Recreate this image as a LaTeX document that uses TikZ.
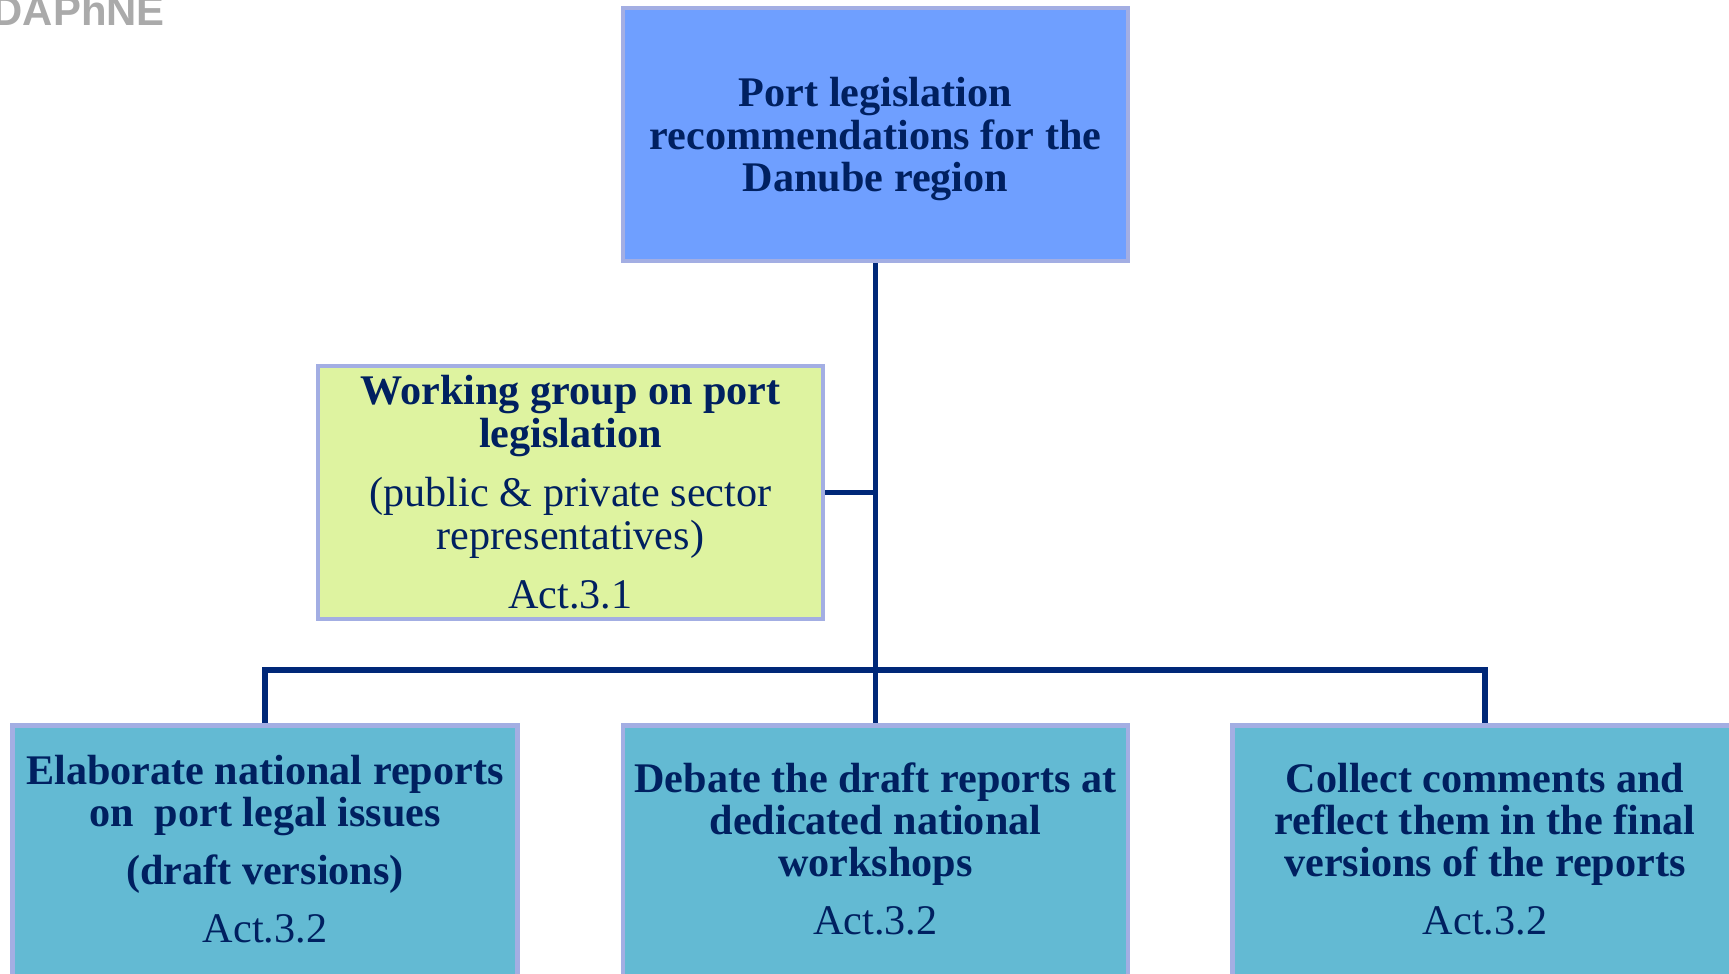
\documentclass[tikz,border=0pt]{standalone}
\usepackage{fontspec}
\setmainfont{Liberation Serif}
\newfontfamily\logofont{Liberation Sans}
\definecolor{topblue}{RGB}{111,159,255}
\definecolor{wgreen}{RGB}{222,243,160}
\definecolor{teal}{RGB}{99,186,211}
\definecolor{boxedge}{RGB}{163,174,227}
\definecolor{navy}{RGB}{0,32,96}
\definecolor{linkblue}{RGB}{0,40,120}
\definecolor{logogray}{RGB}{170,170,170}
\begin{document}
\begin{tikzpicture}[x=0.01cm,y=-0.01cm]
\tikzstyle{every node}+=[inner sep=0pt]
\tikzstyle{box}=[draw=boxedge, line width=1.3pt, minimum width=5.05cm, align=center, text=navy, font=\fontsize{12}{12}\selectfont]
\tikzstyle{topbox}=[box, fill=topblue, minimum height=2.53cm, text depth=-0.06cm]
\tikzstyle{wgbox}=[box, fill=wgreen, minimum height=2.53cm]
\tikzstyle{actbox}=[box, fill=teal, minimum height=2.56cm, anchor=north, text depth=0.09cm]
\tikzstyle{link}=[draw=linkblue, line width=1.6pt]
\useasboundingbox (0,0) rectangle (1729,974);
\fill[white] (0,0) rectangle (1729,974);
\node[anchor=base west, text=logogray, font=\logofont\bfseries\fontsize{11.9}{12}\selectfont] (logo) at (-8,26) {DAPhNE};
\node[topbox] (rec) at (875.5,134.5) {\textbf{Port legislation}\\ \textbf{recommendations for the}\\ \textbf{Danube region}};
\node[wgbox] (wg) at (570.5,492.5) {\textbf{Working group on port}\\ \textbf{legislation}\\[5pt] (public \& private sector\\ representatives)\\[5pt] Act.3.1};
\node[actbox] (elab) at (265,723) {\textbf{Elaborate national reports}\\ \textbf{on\ \ port legal issues}\\[4.5pt] \textbf{(draft versions)}\\[4.5pt] Act.3.2};
\node[actbox] (deb) at (875.5,723) {\textbf{Debate the draft reports at}\\ \textbf{dedicated national}\\ \textbf{workshops}\\[4.5pt] Act.3.2};
\node[actbox] (coll) at (1485,723) {\textbf{Collect comments and}\\ \textbf{reflect them in the final}\\ \textbf{versions of the reports}\\[4.5pt] Act.3.2};
\coordinate (bus) at (875.5,670);
\draw[link] (rec) -- (deb);
\draw[link] (wg.east) -- (wg.east -| rec.south);
\draw[link] (elab.north) |- (bus) -| (coll.north);
\end{tikzpicture}
\end{document}
